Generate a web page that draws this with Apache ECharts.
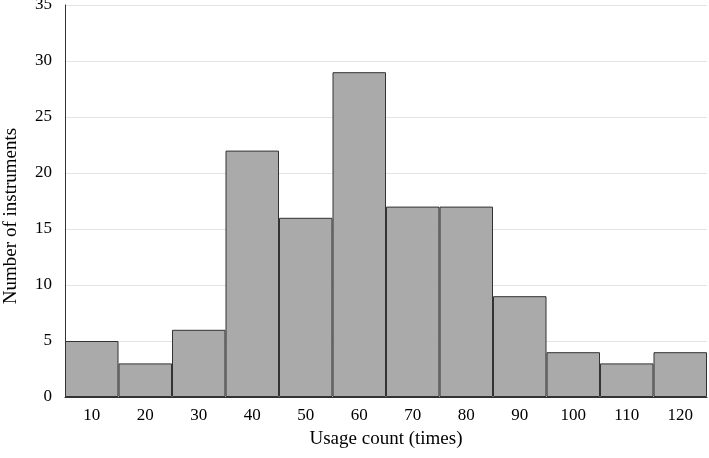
<!DOCTYPE html>
<html><head><meta charset="utf-8">
<script src="https://cdn.jsdelivr.net/npm/echarts@6/dist/echarts.min.js"></script>
<style>html,body{margin:0;padding:0;background:#fff}#c{width:709px;height:458px}</style>
</head><body><div id="c"></div>
<script>
const categories = ['10','20','30','40','50','60','70','80','90','100','110','120'];
const counts = [5,3,6,22,16,29,17,17,9,4,3,4];
const yTicks = [0,5,10,15,20,25,30,35];
const font = 'Liberation Serif';
const chart = echarts.init(document.getElementById('c'));
chart.setOption({
  animation:false,
  grid:{left:65,right:2,top:5,bottom:61,containLabel:false,outerBoundsMode:'none'},
  xAxis:{type:'category',data:categories,
    name:'Usage count (times)',nameLocation:'middle',nameGap:33,
    nameTextStyle:{fontFamily:font,fontSize:19,color:'#000'},
    axisLine:{lineStyle:{color:'#333',width:1}},axisTick:{show:false},
    axisLabel:{fontFamily:font,fontSize:17,color:'#000',margin:10}},
  yAxis:{type:'value',min:yTicks[0],max:yTicks[yTicks.length-1],interval:5,
    name:'Number of instruments',nameLocation:'middle',nameGap:44,
    nameTextStyle:{fontFamily:font,fontSize:19,color:'#000',padding:[0,30,0,0]},
    axisLine:{show:true,lineStyle:{color:'#333',width:1}},axisTick:{show:false},
    axisLabel:{fontFamily:font,fontSize:17,color:'#000',margin:13},
    splitLine:{lineStyle:{color:'#e3e3e3'}}},
  series:[{type:'bar',data:counts,barCategoryGap:'0%',
    itemStyle:{color:'#aaaaaa',borderColor:'#333',borderWidth:1}}]
});
</script></body></html>
